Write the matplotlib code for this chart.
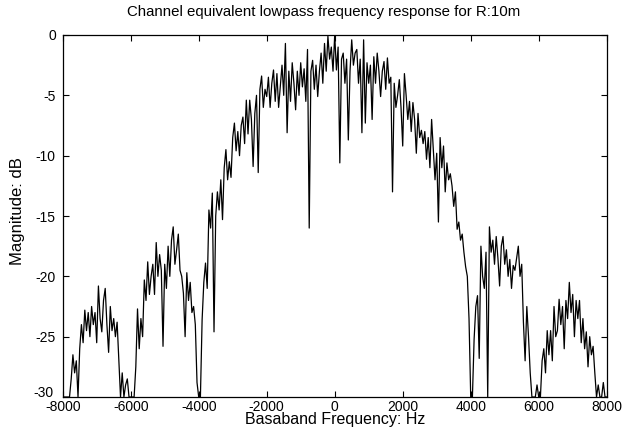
import numpy as np
import matplotlib
matplotlib.use("Agg")
import matplotlib.pyplot as plt
from matplotlib.transforms import offset_copy

plt.rcParams['font.family'] = ['Liberation Sans', 'DejaVu Sans']

# Frequency grid (Hz), 50 Hz sampling from -8000 to 8000
freq_start = -8000
freq_stop = 8000
freq_step = 50

# Magnitude (dB), in frequency order
mag_db = [
    -30, -30, -30,
    -30, -30, -28.5, -26.5, -28, -27, -30, -26, -24, -25.5,
    -22.8, -24.5, -23, -25, -22.5, -24, -23, -25.5, -20.8, -23.5,
    -24.6, -22, -21, -24, -26.3, -22.5, -24.5, -23.5, -25,
    -23.8, -27, -30, -28, -30, -29, -28.5, -30, -30, -30,
    -30, -27.5, -22.7, -26, -23.5, -25, -20.3, -22, -18.8, -21.5,
    -20, -19, -21.5, -17.2, -20, -18.2, -19.5, -25.8, -19, -21,
    -17.5, -20, -17, -15.9, -19, -17.8, -16.5, -19.5, -20,
    -21.4, -25, -19.7, -22, -20.5, -23, -22.5, -24, -28.8, -30,
    -30, -23.6, -20.5, -18.9, -21, -14.5, -16, -13.1, -24.6, -15,
    -13, -14.5, -12, -15.3, -11, -9.5, -12, -10.5, -11.8, -8.5,
    -7.3, -9.6, -8, -10, -7.5, -6.8, -9, -5.4, -8.2, -5.4,
    -7, -10.9, -6.5, -5, -11.4, -4.5, -3.4, -6, -4.5,
    -5.1, -3.5, -6, -4, -2.9, -5.5, -3.2, -6, -4.3, -2.5,
    -5, -0.7, -8.1, -3, -5.5, -2.3, -4, -6.2, -3, -5,
    -2.3, -4.3, -2.8, -5.5, -1.2, -16, -3, -2.1, -4.5, -2.5,
    -5.1, -3, -1.5, -4, -0.7, -3, -0.1, -2, -1,
    -3, 0, -2.9, -1, -10.6, -2, -1.5, -4, -2, -8.7,
    -3, -0.4, -2.5, -1.5, -1.2, -4, -2, -8.1, -0.4, -7.3,
    -2.3, -4, -2.5, -7, -1.8, -4, -1.5, -3, -5.1, -3,
    -2.2, -4.5, -1.9, -4, -3.5, -13, -4, -6, -5, -3.7,
    -6, -9.2, -3.2, -5, -7, -5.5, -8, -5.6, -7,
    -9.8, -6.5, -8.5, -7.9, -9, -8, -10.3, -8.5, -11, -7,
    -9.5, -12, -9.8, -15.5, -8.5, -11, -9.2, -13, -10.6, -12,
    -11.5, -12.5, -14.2, -13, -16.1, -15.5, -17, -16.5, -18, -19.2,
    -20, -23.5, -30, -30, -25.2, -22.5, -21.6, -26.8, -17.5, -20,
    -21, -18, -30, -15.9, -18, -17, -19, -16.7, -18.5,
    -20.8, -17.5, -16.7, -19, -17.8, -20, -18.6, -21, -19.1, -19.5,
    -18.5, -17.5, -20, -19, -23.8, -27, -22.5, -25, -28, -30,
    -30, -30, -29, -30, -30, -27, -26, -28, -24.5, -26.5,
    -24.5, -27, -22.5, -25, -24.5, -21.9, -24, -22.5, -26,
    -22, -23.5, -20.5, -23, -21.5, -25, -22, -23.5, -22, -25.5,
    -23.5, -26, -24.6, -27.5, -25, -26.5, -25.8, -28, -30, -29,
    -30,
    -30, -28.8, -30, -30,
]

freq = np.arange(freq_start, freq_stop + freq_step, freq_step)
mag = np.array(mag_db)
assert len(freq) == len(mag)

xticks = [-8000, -6000, -4000, -2000, 0, 2000, 4000, 6000, 8000]
xtick_labels = ['-8000', '-6000', '-4000', '-2000', '0', '2000', '4000', '6000', '8000']
yticks = [0, -5, -10, -15, -20, -25, -30]
ytick_labels = ['0', '-5', '-10', '-15', '-20', '-25', '']

fig = plt.figure(figsize=(6.24, 4.32), dpi=100)
ax = fig.add_axes([0.1005, 0.081, 0.8718, 0.838])
ax.plot(freq, mag, color='black', linewidth=0.9)
ax.set_xlim(-8000, 8000)
ax.set_ylim(-30, 0)
ax.set_xticks(xticks)
ax.set_xticklabels(xtick_labels)
ax.set_yticks(yticks)
ax.set_yticklabels(ytick_labels)
ax.tick_params(direction='in', length=4, labelsize=10, width=0.8)
ax.tick_params(axis='x', pad=2)
ax.tick_params(axis='y', pad=5)
ax.tick_params(top=True, right=True)
for s in ax.spines.values():
    s.set_linewidth(0.9)

# bottom y label, raised slightly as in the reference
tr = offset_copy(ax.get_yaxis_transform(), fig=fig, x=-9, y=4, units='dots')
ax.text(0, -30, '-30', transform=tr, ha='right', va='center', fontsize=10)

ax.text(0.48, 1.0635, 'Channel equivalent lowpass frequency response for R:10m',
        transform=ax.transAxes, ha='center', va='center', fontsize=10.8)
ax.set_xlabel('Basaband Frequency: Hz', fontsize=11.5, va='center')
ax.xaxis.set_label_coords(0.5, -0.0635)
ax.set_ylabel('Magnitude: dB', fontsize=12, va='center')
ax.yaxis.set_label_coords(-0.084, 0.514)
fig.savefig('out.png', dpi=100, facecolor='white')
